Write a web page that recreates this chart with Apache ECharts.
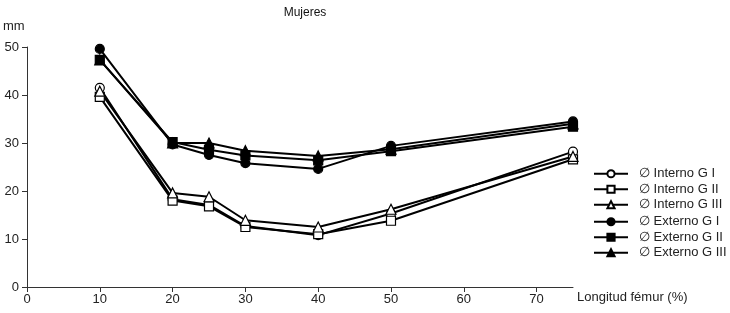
<!DOCTYPE html>
<html><head><meta charset="utf-8">
<script src="https://cdn.jsdelivr.net/npm/echarts@6/dist/echarts.min.js"></script>
<style>html,body{margin:0;padding:0;background:#fff}#c{width:730px;height:313px}</style>
</head><body><div id="c"></div>
<script>
const xValues = [10, 20, 25, 30, 40, 50, 75];
const internoGI   = [41.5, 18.3, 17.1, 12.7, 10.8, 15.3, 28.2];
const internoGII  = [39.6, 18.0, 16.8, 12.5, 11.0, 13.8, 26.6];
const internoGIII = [40.8, 19.6, 18.8, 13.9, 12.5, 16.2, 27.2];
const externoGI   = [49.6, 29.7, 27.5, 25.8, 24.6, 29.4, 34.5];
const externoGII  = [47.3, 30.2, 28.6, 27.4, 26.4, 28.3, 33.4];
const externoGIII = [47.3, 30.0, 30.0, 28.4, 27.3, 28.7, 34.0];
const xTicks = [0, 10, 20, 30, 40, 50, 60, 70];
const names = ['∅ Interno G I','∅ Interno G II','∅ Interno G III','∅ Externo G I','∅ Externo G II','∅ Externo G III'];

const font = '"Liberation Sans", Arial, sans-serif';
function pairs(v){ return xValues.map((x,i)=>[x, v[i]]); }
function mk(name, vals, symbol, filled){
  return {
    name, type:'line', data: pairs(vals), symbol, symbolSize: symbol==='triangle'?10:9,
    showSymbol:true,
    lineStyle:{color:'#000', width:2},
    itemStyle:{color: filled?'#000':'#fff', borderColor:'#000', borderWidth:1.2},
    emphasis:{disabled:true}, animation:false
  };
}
const legendCommon = {
  orient:'vertical', left:588, itemWidth:34, itemHeight:9, itemGap:2,
  textStyle:{fontFamily:font, fontSize:13, color:'#222', padding:[0,0,0,6], lineHeight:13.5},
  selectedMode:false
};
const chart = echarts.init(document.getElementById('c'));
chart.setOption({
  backgroundColor:'#fff',
  animation:false,
  title:{text:'Mujeres', left:300, textAlign:'center', top:2,
    textStyle:{fontFamily:font, fontSize:12, fontWeight:'normal', color:'#111'}},
  grid:{left:27, right:157, top:47, bottom:26, containLabel:false},
  legend:[
    Object.assign({}, legendCommon, {top:162, data:names.slice(0,3)}),
    Object.assign({}, legendCommon, {top:210, data:names.slice(3)})
  ],
  xAxis:{type:'value', min:0, max:75, interval:10,
    name:'Longitud fémur (%)', nameLocation:'end', nameGap:4,
    nameTextStyle:{fontFamily:font, fontSize:13, color:'#222', align:'left', verticalAlign:'top', padding:[4,0,0,0]},
    axisLine:{lineStyle:{color:'#333', width:1}},
    axisTick:{show:true, inside:false, length:5, customValues:xTicks, lineStyle:{color:'#333'}},
    axisLabel:{customValues:xTicks, fontFamily:font, fontSize:13, color:'#222', margin:6},
    splitLine:{show:false}},
  yAxis:{type:'value', min:0, max:50, interval:10,
    name:'mm', nameLocation:'end', nameGap:14,
    nameTextStyle:{fontFamily:font, fontSize:13, color:'#222', align:'left', padding:[0,0,0,-24]},
    axisLine:{show:true, lineStyle:{color:'#333', width:1}},
    axisTick:{show:true, length:5, lineStyle:{color:'#333'}},
    axisLabel:{fontFamily:font, fontSize:13, color:'#222', margin:8},
    splitLine:{show:false}},
  series:[
    mk(names[0], internoGI, 'circle', false),
    mk(names[1], internoGII, 'rect', false),
    mk(names[2], internoGIII, 'triangle', false),
    mk(names[3], externoGI, 'circle', true),
    mk(names[4], externoGII, 'rect', true),
    mk(names[5], externoGIII, 'triangle', true)
  ]
});
</script></body></html>
